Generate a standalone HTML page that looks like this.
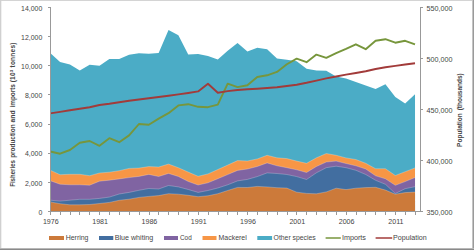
<!DOCTYPE html>
<html><head><meta charset="utf-8"><style>
html,body{margin:0;padding:0;background:#fff;}
body{width:474px;height:250px;overflow:hidden;position:relative;}
svg{position:absolute;left:0;top:0;}
.bt{position:absolute;left:0;top:0;width:474px;height:1px;background:#d4d4d4;}
.bl{position:absolute;left:0;top:0;width:1px;height:250px;background:#d0d0d0;}
.bl2{position:absolute;left:1px;top:1px;width:1px;height:249px;background:#f0f0f0;}
.br{position:absolute;right:0;top:0;width:1px;height:250px;background:#9a9a9a;}
.br2{position:absolute;right:1px;top:0;width:1px;height:250px;background:#c4c4c4;}
.bb{position:absolute;left:0;bottom:0;width:474px;height:1px;background:#8a8a8a;}
.bb2{position:absolute;left:0;bottom:1px;width:474px;height:1px;background:#b8b8b8;}
</style></head><body>
<svg width="474" height="250" viewBox="0 0 474 250">
<polygon points="50.20,211.5 50.20,52.90 60.06,62.00 69.92,64.60 79.78,70.50 89.64,64.80 99.50,65.80 109.36,59.10 119.22,58.90 129.08,54.80 138.94,53.30 148.80,53.70 158.66,53.00 168.52,29.90 178.38,35.30 188.24,54.60 198.10,53.90 207.96,56.00 217.82,59.50 227.68,50.70 237.54,43.00 247.40,51.60 257.26,47.70 267.12,49.20 276.98,58.50 286.84,59.70 296.70,61.30 306.56,68.70 316.42,70.40 326.28,70.70 336.14,76.50 346.00,78.40 355.86,82.00 365.72,85.40 375.58,89.00 385.44,84.30 395.30,96.90 405.16,103.60 415.02,94.20 415.02,211.5" fill="#4BACC6"/>
<polygon points="50.20,211.5 50.20,170.20 60.06,174.70 69.92,174.30 79.78,174.30 89.64,175.70 99.50,173.00 109.36,172.20 119.22,170.70 129.08,168.40 138.94,168.10 148.80,166.60 158.66,167.00 168.52,164.10 178.38,167.70 188.24,172.10 198.10,176.30 207.96,173.90 217.82,169.50 227.68,165.10 237.54,160.60 247.40,161.00 257.26,158.90 267.12,155.30 276.98,157.80 286.84,158.60 296.70,161.10 306.56,163.30 316.42,157.80 326.28,153.50 336.14,155.30 346.00,157.90 355.86,159.50 365.72,163.30 375.58,168.70 385.44,168.70 395.30,175.50 405.16,171.70 415.02,167.90 415.02,211.5" fill="#F79646"/>
<polygon points="50.20,211.5 50.20,180.70 60.06,184.20 69.92,184.80 79.78,184.80 89.64,185.20 99.50,181.20 109.36,180.20 119.22,178.90 129.08,177.60 138.94,176.40 148.80,174.40 158.66,176.50 168.52,173.40 178.38,176.50 188.24,181.50 198.10,185.00 207.96,182.80 217.82,178.70 227.68,174.60 237.54,170.40 247.40,169.00 257.26,166.50 267.12,162.90 276.98,165.80 286.84,167.70 296.70,169.80 306.56,172.50 316.42,166.50 326.28,162.00 336.14,161.10 346.00,163.50 355.86,165.80 365.72,169.00 375.58,175.80 385.44,178.80 395.30,185.30 405.16,181.60 415.02,177.50 415.02,211.5" fill="#8064A2"/>
<polygon points="50.20,211.5 50.20,200.20 60.06,201.10 69.92,200.20 79.78,199.30 89.64,199.30 99.50,198.40 109.36,197.10 119.22,194.00 129.08,192.40 138.94,190.30 148.80,188.50 158.66,189.00 168.52,185.50 178.38,186.90 188.24,189.50 198.10,192.40 207.96,190.50 217.82,188.00 227.68,184.80 237.54,180.90 247.40,179.40 257.26,176.60 267.12,172.90 276.98,173.50 286.84,174.50 296.70,176.60 306.56,179.50 316.42,172.80 326.28,167.70 336.14,166.20 346.00,167.70 355.86,170.30 365.72,174.50 375.58,180.30 385.44,184.30 395.30,193.50 405.16,188.70 415.02,186.70 415.02,211.5" fill="#426EA0"/>
<polygon points="50.20,211.5 50.20,201.90 60.06,203.70 69.92,204.80 79.78,204.80 89.64,204.50 99.50,203.50 109.36,202.40 119.22,200.30 129.08,199.20 138.94,197.40 148.80,196.40 158.66,195.60 168.52,193.70 178.38,194.20 188.24,195.30 198.10,196.70 207.96,195.80 217.82,193.70 227.68,190.50 237.54,187.40 247.40,187.50 257.26,186.40 267.12,186.90 276.98,187.70 286.84,188.10 296.70,192.20 306.56,193.40 316.42,193.80 326.28,191.90 336.14,188.20 346.00,189.60 355.86,188.20 365.72,187.60 375.58,187.30 385.44,190.10 395.30,194.20 405.16,192.60 415.02,192.10 415.02,211.5" fill="#CC7A3A"/>
<polyline points="50.20,170.20 60.06,174.70 69.92,174.30 79.78,174.30 89.64,175.70 99.50,173.00 109.36,172.20 119.22,170.70 129.08,168.40 138.94,168.10 148.80,166.60 158.66,167.00 168.52,164.10 178.38,167.70 188.24,172.10 198.10,176.30 207.96,173.90 217.82,169.50 227.68,165.10 237.54,160.60 247.40,161.00 257.26,158.90 267.12,155.30 276.98,157.80 286.84,158.60 296.70,161.10 306.56,163.30 316.42,157.80 326.28,153.50 336.14,155.30 346.00,157.90 355.86,159.50 365.72,163.30 375.58,168.70 385.44,168.70 395.30,175.50 405.16,171.70 415.02,167.90" fill="none" stroke="#ffffff" stroke-opacity="0.4" stroke-width="0.6"/>
<polyline points="50.20,180.70 60.06,184.20 69.92,184.80 79.78,184.80 89.64,185.20 99.50,181.20 109.36,180.20 119.22,178.90 129.08,177.60 138.94,176.40 148.80,174.40 158.66,176.50 168.52,173.40 178.38,176.50 188.24,181.50 198.10,185.00 207.96,182.80 217.82,178.70 227.68,174.60 237.54,170.40 247.40,169.00 257.26,166.50 267.12,162.90 276.98,165.80 286.84,167.70 296.70,169.80 306.56,172.50 316.42,166.50 326.28,162.00 336.14,161.10 346.00,163.50 355.86,165.80 365.72,169.00 375.58,175.80 385.44,178.80 395.30,185.30 405.16,181.60 415.02,177.50" fill="none" stroke="#ffffff" stroke-opacity="0.4" stroke-width="0.6"/>
<polyline points="50.20,200.20 60.06,201.10 69.92,200.20 79.78,199.30 89.64,199.30 99.50,198.40 109.36,197.10 119.22,194.00 129.08,192.40 138.94,190.30 148.80,188.50 158.66,189.00 168.52,185.50 178.38,186.90 188.24,189.50 198.10,192.40 207.96,190.50 217.82,188.00 227.68,184.80 237.54,180.90 247.40,179.40 257.26,176.60 267.12,172.90 276.98,173.50 286.84,174.50 296.70,176.60 306.56,179.50 316.42,172.80 326.28,167.70 336.14,166.20 346.00,167.70 355.86,170.30 365.72,174.50 375.58,180.30 385.44,184.30 395.30,193.50 405.16,188.70 415.02,186.70" fill="none" stroke="#ffffff" stroke-opacity="0.4" stroke-width="0.6"/>
<polyline points="50.20,201.90 60.06,203.70 69.92,204.80 79.78,204.80 89.64,204.50 99.50,203.50 109.36,202.40 119.22,200.30 129.08,199.20 138.94,197.40 148.80,196.40 158.66,195.60 168.52,193.70 178.38,194.20 188.24,195.30 198.10,196.70 207.96,195.80 217.82,193.70 227.68,190.50 237.54,187.40 247.40,187.50 257.26,186.40 267.12,186.90 276.98,187.70 286.84,188.10 296.70,192.20 306.56,193.40 316.42,193.80 326.28,191.90 336.14,188.20 346.00,189.60 355.86,188.20 365.72,187.60 375.58,187.30 385.44,190.10 395.30,194.20 405.16,192.60 415.02,192.10" fill="none" stroke="#ffffff" stroke-opacity="0.4" stroke-width="0.6"/>
<polyline points="50.20,151.50 60.06,153.70 69.92,150.00 79.78,142.70 89.64,141.00 99.50,145.80 109.36,138.20 119.22,142.20 129.08,135.40 138.94,124.00 148.80,124.80 158.66,118.60 168.52,113.20 178.38,105.40 188.24,104.20 198.10,106.80 207.96,107.20 217.82,104.60 227.68,83.70 237.54,87.10 247.40,85.30 257.26,77.00 267.12,75.30 276.98,71.90 286.84,64.30 296.70,58.60 306.56,62.20 316.42,54.60 326.28,57.80 336.14,53.10 346.00,48.90 355.86,44.30 365.72,49.20 375.58,40.80 385.44,39.20 395.30,42.70 405.16,40.80 415.02,44.30" fill="none" stroke="#77963C" stroke-width="1.9" stroke-linejoin="round"/>
<polyline points="50.20,113.40 60.06,111.90 69.92,110.30 79.78,108.80 89.64,107.30 99.50,105.00 109.36,103.80 119.22,102.20 129.08,100.80 138.94,99.50 148.80,98.30 158.66,97.00 168.52,95.80 178.38,94.40 188.24,93.00 198.10,91.40 207.96,83.70 217.82,92.80 227.68,91.10 237.54,90.00 247.40,89.30 257.26,88.70 267.12,88.00 276.98,87.30 286.84,86.00 296.70,84.70 306.56,82.80 316.42,80.60 326.28,78.40 336.14,76.50 346.00,74.60 355.86,73.00 365.72,71.30 375.58,69.00 385.44,67.30 395.30,65.90 405.16,64.50 415.02,63.20" fill="none" stroke="#A23B3A" stroke-width="1.9" stroke-linejoin="round"/>
<line x1="50.5" y1="7" x2="50.5" y2="212" stroke="#999999" stroke-width="1"/>
<line x1="48" y1="211.5" x2="50.5" y2="211.5" stroke="#999999" stroke-width="1"/>
<line x1="48" y1="182.5" x2="50.5" y2="182.5" stroke="#999999" stroke-width="1"/>
<line x1="48" y1="153.5" x2="50.5" y2="153.5" stroke="#999999" stroke-width="1"/>
<line x1="48" y1="124.5" x2="50.5" y2="124.5" stroke="#999999" stroke-width="1"/>
<line x1="48" y1="94.5" x2="50.5" y2="94.5" stroke="#999999" stroke-width="1"/>
<line x1="48" y1="65.5" x2="50.5" y2="65.5" stroke="#999999" stroke-width="1"/>
<line x1="48" y1="36.5" x2="50.5" y2="36.5" stroke="#999999" stroke-width="1"/>
<line x1="48" y1="7.5" x2="50.5" y2="7.5" stroke="#999999" stroke-width="1"/>
<line x1="420.5" y1="7" x2="420.5" y2="212" stroke="#999999" stroke-width="1"/>
<line x1="420.5" y1="211.5" x2="423" y2="211.5" stroke="#999999" stroke-width="1"/>
<line x1="420.5" y1="160.5" x2="423" y2="160.5" stroke="#999999" stroke-width="1"/>
<line x1="420.5" y1="109.5" x2="423" y2="109.5" stroke="#999999" stroke-width="1"/>
<line x1="420.5" y1="58.5" x2="423" y2="58.5" stroke="#999999" stroke-width="1"/>
<line x1="420.5" y1="7.5" x2="423" y2="7.5" stroke="#999999" stroke-width="1"/>
<line x1="50" y1="211.5" x2="421" y2="211.5" stroke="#999999" stroke-width="1"/>
<line x1="50.5" y1="211.5" x2="50.5" y2="215" stroke="#999999" stroke-width="1"/>
<line x1="60.5" y1="211.5" x2="60.5" y2="215" stroke="#999999" stroke-width="1"/>
<line x1="70.5" y1="211.5" x2="70.5" y2="215" stroke="#999999" stroke-width="1"/>
<line x1="79.5" y1="211.5" x2="79.5" y2="215" stroke="#999999" stroke-width="1"/>
<line x1="89.5" y1="211.5" x2="89.5" y2="215" stroke="#999999" stroke-width="1"/>
<line x1="99.5" y1="211.5" x2="99.5" y2="215" stroke="#999999" stroke-width="1"/>
<line x1="109.5" y1="211.5" x2="109.5" y2="215" stroke="#999999" stroke-width="1"/>
<line x1="119.5" y1="211.5" x2="119.5" y2="215" stroke="#999999" stroke-width="1"/>
<line x1="129.5" y1="211.5" x2="129.5" y2="215" stroke="#999999" stroke-width="1"/>
<line x1="139.5" y1="211.5" x2="139.5" y2="215" stroke="#999999" stroke-width="1"/>
<line x1="149.5" y1="211.5" x2="149.5" y2="215" stroke="#999999" stroke-width="1"/>
<line x1="158.5" y1="211.5" x2="158.5" y2="215" stroke="#999999" stroke-width="1"/>
<line x1="168.5" y1="211.5" x2="168.5" y2="215" stroke="#999999" stroke-width="1"/>
<line x1="178.5" y1="211.5" x2="178.5" y2="215" stroke="#999999" stroke-width="1"/>
<line x1="188.5" y1="211.5" x2="188.5" y2="215" stroke="#999999" stroke-width="1"/>
<line x1="198.5" y1="211.5" x2="198.5" y2="215" stroke="#999999" stroke-width="1"/>
<line x1="208.5" y1="211.5" x2="208.5" y2="215" stroke="#999999" stroke-width="1"/>
<line x1="218.5" y1="211.5" x2="218.5" y2="215" stroke="#999999" stroke-width="1"/>
<line x1="227.5" y1="211.5" x2="227.5" y2="215" stroke="#999999" stroke-width="1"/>
<line x1="237.5" y1="211.5" x2="237.5" y2="215" stroke="#999999" stroke-width="1"/>
<line x1="247.5" y1="211.5" x2="247.5" y2="215" stroke="#999999" stroke-width="1"/>
<line x1="257.5" y1="211.5" x2="257.5" y2="215" stroke="#999999" stroke-width="1"/>
<line x1="267.5" y1="211.5" x2="267.5" y2="215" stroke="#999999" stroke-width="1"/>
<line x1="277.5" y1="211.5" x2="277.5" y2="215" stroke="#999999" stroke-width="1"/>
<line x1="287.5" y1="211.5" x2="287.5" y2="215" stroke="#999999" stroke-width="1"/>
<line x1="296.5" y1="211.5" x2="296.5" y2="215" stroke="#999999" stroke-width="1"/>
<line x1="306.5" y1="211.5" x2="306.5" y2="215" stroke="#999999" stroke-width="1"/>
<line x1="316.5" y1="211.5" x2="316.5" y2="215" stroke="#999999" stroke-width="1"/>
<line x1="326.5" y1="211.5" x2="326.5" y2="215" stroke="#999999" stroke-width="1"/>
<line x1="336.5" y1="211.5" x2="336.5" y2="215" stroke="#999999" stroke-width="1"/>
<line x1="346.5" y1="211.5" x2="346.5" y2="215" stroke="#999999" stroke-width="1"/>
<line x1="356.5" y1="211.5" x2="356.5" y2="215" stroke="#999999" stroke-width="1"/>
<line x1="365.5" y1="211.5" x2="365.5" y2="215" stroke="#999999" stroke-width="1"/>
<line x1="375.5" y1="211.5" x2="375.5" y2="215" stroke="#999999" stroke-width="1"/>
<line x1="385.5" y1="211.5" x2="385.5" y2="215" stroke="#999999" stroke-width="1"/>
<line x1="395.5" y1="211.5" x2="395.5" y2="215" stroke="#999999" stroke-width="1"/>
<line x1="405.5" y1="211.5" x2="405.5" y2="215" stroke="#999999" stroke-width="1"/>
<line x1="415.5" y1="211.5" x2="415.5" y2="215" stroke="#999999" stroke-width="1"/>
<text x="42.3" y="214.70" text-anchor="end" font-size="6.95" fill="#454545" font-family="Liberation Sans, sans-serif">0</text>
<text x="42.3" y="185.57" text-anchor="end" font-size="6.95" fill="#454545" font-family="Liberation Sans, sans-serif">2,000</text>
<text x="42.3" y="156.44" text-anchor="end" font-size="6.95" fill="#454545" font-family="Liberation Sans, sans-serif">4,000</text>
<text x="42.3" y="127.31" text-anchor="end" font-size="6.95" fill="#454545" font-family="Liberation Sans, sans-serif">6,000</text>
<text x="42.3" y="98.18" text-anchor="end" font-size="6.95" fill="#454545" font-family="Liberation Sans, sans-serif">8,000</text>
<text x="42.3" y="69.05" text-anchor="end" font-size="6.95" fill="#454545" font-family="Liberation Sans, sans-serif">10,000</text>
<text x="42.3" y="39.92" text-anchor="end" font-size="6.95" fill="#454545" font-family="Liberation Sans, sans-serif">12,000</text>
<text x="42.3" y="10.79" text-anchor="end" font-size="6.95" fill="#454545" font-family="Liberation Sans, sans-serif">14,000</text>
<text x="426.5" y="214.80" font-size="7.2" fill="#454545" font-family="Liberation Sans, sans-serif">350,000</text>
<text x="426.5" y="163.90" font-size="7.2" fill="#454545" font-family="Liberation Sans, sans-serif">400,000</text>
<text x="426.5" y="113.00" font-size="7.2" fill="#454545" font-family="Liberation Sans, sans-serif">450,000</text>
<text x="426.5" y="62.10" font-size="7.2" fill="#454545" font-family="Liberation Sans, sans-serif">500,000</text>
<text x="426.5" y="11.20" font-size="7.2" fill="#454545" font-family="Liberation Sans, sans-serif">550,000</text>
<text x="50.80" y="224" text-anchor="middle" font-size="7.1" fill="#454545" font-family="Liberation Sans, sans-serif">1976</text>
<text x="100.10" y="224" text-anchor="middle" font-size="7.1" fill="#454545" font-family="Liberation Sans, sans-serif">1981</text>
<text x="149.40" y="224" text-anchor="middle" font-size="7.1" fill="#454545" font-family="Liberation Sans, sans-serif">1986</text>
<text x="198.70" y="224" text-anchor="middle" font-size="7.1" fill="#454545" font-family="Liberation Sans, sans-serif">1991</text>
<text x="248.00" y="224" text-anchor="middle" font-size="7.1" fill="#454545" font-family="Liberation Sans, sans-serif">1996</text>
<text x="297.30" y="224" text-anchor="middle" font-size="7.1" fill="#454545" font-family="Liberation Sans, sans-serif">2001</text>
<text x="346.60" y="224" text-anchor="middle" font-size="7.1" fill="#454545" font-family="Liberation Sans, sans-serif">2006</text>
<text x="395.90" y="224" text-anchor="middle" font-size="7.1" fill="#454545" font-family="Liberation Sans, sans-serif">2011</text>
<text transform="translate(15.2,186.80) rotate(-90)" textLength="26.70" lengthAdjust="spacingAndGlyphs" font-size="6.55" font-weight="bold" fill="#454545" font-family="Liberation Sans, sans-serif">Fisheries</text>
<text transform="translate(15.2,157.80) rotate(-90)" textLength="33.50" lengthAdjust="spacingAndGlyphs" font-size="6.55" font-weight="bold" fill="#454545" font-family="Liberation Sans, sans-serif">production</text>
<text transform="translate(15.2,122.50) rotate(-90)" textLength="12.00" lengthAdjust="spacingAndGlyphs" font-size="6.55" font-weight="bold" fill="#454545" font-family="Liberation Sans, sans-serif">and</text>
<text transform="translate(15.2,107.50) rotate(-90)" textLength="23.40" lengthAdjust="spacingAndGlyphs" font-size="6.55" font-weight="bold" fill="#454545" font-family="Liberation Sans, sans-serif">imports</text>
<text transform="translate(15.2,82.3) rotate(-90)" letter-spacing="0.22" font-size="6.55" font-weight="bold" fill="#454545" font-family="Liberation Sans, sans-serif">(10<tspan font-size="4.3" dy="-2.4">3</tspan><tspan dy="2.4"> tonnes)</tspan></text>
<text transform="translate(461.7,146.90) rotate(-90)" textLength="33.60" lengthAdjust="spacingAndGlyphs" font-size="6.55" font-weight="bold" fill="#454545" font-family="Liberation Sans, sans-serif">Population</text>
<text transform="translate(461.7,110.30) rotate(-90)" textLength="37.00" lengthAdjust="spacingAndGlyphs" font-size="6.55" font-weight="bold" fill="#454545" font-family="Liberation Sans, sans-serif">(thousands)</text>
<rect x="49" y="236" width="15.0" height="4" fill="#CC7A3A"/>
<text x="65.70" y="240.2" textLength="22.80" lengthAdjust="spacingAndGlyphs" font-size="6.5" fill="#454545" font-family="Liberation Sans, sans-serif">Herring</text>
<rect x="99" y="236" width="14.3" height="4" fill="#426EA0"/>
<text x="114.70" y="240.2" textLength="38.50" lengthAdjust="spacingAndGlyphs" font-size="6.5" fill="#454545" font-family="Liberation Sans, sans-serif">Blue whiting</text>
<rect x="164" y="236" width="14.0" height="4" fill="#8064A2"/>
<text x="180.00" y="240.2" textLength="11.70" lengthAdjust="spacingAndGlyphs" font-size="6.5" fill="#454545" font-family="Liberation Sans, sans-serif">Cod</text>
<rect x="202.5" y="236" width="14.0" height="4" fill="#F79646"/>
<text x="218.60" y="240.2" textLength="28.10" lengthAdjust="spacingAndGlyphs" font-size="6.5" fill="#454545" font-family="Liberation Sans, sans-serif">Mackerel</text>
<rect x="257.3" y="236" width="14.8" height="4" fill="#4BACC6"/>
<text x="273.60" y="240.2" textLength="42.10" lengthAdjust="spacingAndGlyphs" font-size="6.5" fill="#454545" font-family="Liberation Sans, sans-serif">Other species</text>
<line x1="325.6" y1="238" x2="340.8" y2="238" stroke="#77963C" stroke-width="1.5"/>
<text x="341.90" y="240.2" textLength="24.10" lengthAdjust="spacingAndGlyphs" font-size="6.5" fill="#454545" font-family="Liberation Sans, sans-serif">Imports</text>
<line x1="375.6" y1="238" x2="392.2" y2="238" stroke="#A23B3A" stroke-width="1.5"/>
<text x="393.00" y="240.2" textLength="33.70" lengthAdjust="spacingAndGlyphs" font-size="6.5" fill="#454545" font-family="Liberation Sans, sans-serif">Population</text>
</svg>
<div class="bt"></div><div class="bl"></div><div class="bl2"></div><div class="br2"></div><div class="br"></div><div class="bb2"></div><div class="bb"></div>
</body></html>
